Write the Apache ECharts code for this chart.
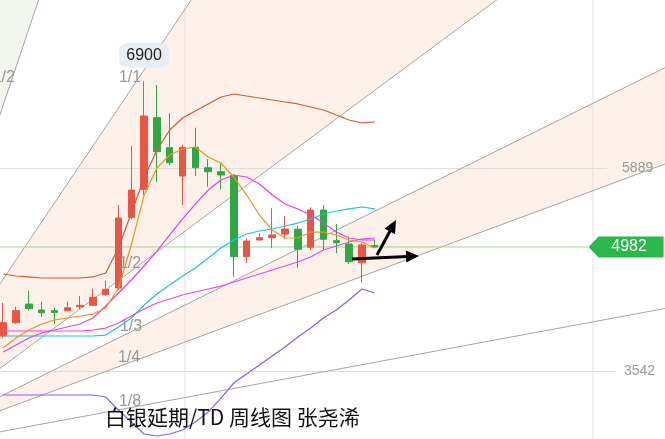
<!DOCTYPE html>
<html><head><meta charset="utf-8">
<script src="https://cdn.jsdelivr.net/npm/echarts@6/dist/echarts.min.js"></script>
<style>html,body{margin:0;padding:0;background:#fff}#c{width:665px;height:439px}</style>
</head><body><div id="c"></div>
<script>
// ---- data (weekly candles, index 0..29) ----
const opens  = [3952,4106,4322,4253,4245,4245,4291,4307,4430,4507,5325,5649,6478,6131,5803,6135,5899,5853,5807,4870,5063,5089,5132,5187,4978,5410,5055,5016,4800,4998];
const closes = [4106,4245,4268,4221,4225,4279,4307,4400,4492,5317,5641,6498,6085,5957,6135,5899,5853,5815,4870,5051,5089,5121,5190,4955,5410,5071,5031,4812,5005,4982];
const lows   = [3929,4091,4245,4175,4091,4241,4264,4299,4415,4484,5306,5583,5737,5931,5468,5803,5680,5649,4638,4793,5055,4967,5082,4742,4947,4955,4909,4785,4569,4970];
const highs  = [4334,4291,4476,4349,4279,4349,4415,4499,4592,5468,6150,6900,6856,6529,6162,6362,5997,5950,5826,5082,5140,5430,5340,5225,5441,5468,5248,5101,5025,5063];
const ma5    = [3813,3929,4021,4091,4137,4160,4183,4206,4276,4507,5005,5583,5896,6046,6116,6139,6023,5954,5792,5583,5352,5178,5086,5086,5155,5155,5121,5063,5040,4970];
const ma10   = [3767,3848,3929,3987,4021,4056,4091,4160,4299,4449,4600,4762,4935,5121,5306,5479,5641,5757,5815,5792,5711,5583,5479,5422,5352,5259,5155,5086,5063,5063];
const maLong = [4010,4010,4010,4010,4010,4010,4010,4021,4044,4102,4183,4264,4334,4380,4426,4461,4496,4530,4577,4623,4669,4716,4762,4808,4866,4947,4993,5040,5074,5086];
const bollMid= [3952,3952,3952,3952,3952,3952,3952,3952,3963,4056,4160,4310,4438,4542,4646,4739,4854,4970,5063,5132,5167,5190,5225,5259,5306,5364,5398,5422,5445,5422];
const bollUp = [4669,4646,4635,4623,4623,4623,4623,4635,4681,4970,5375,5780,6104,6336,6475,6556,6637,6718,6752,6729,6706,6683,6660,6637,6602,6567,6509,6451,6417,6428];
const bollDn = [3269,3269,3269,3269,3269,3269,3269,3269,3246,3095,2957,2818,2795,2818,2864,2957,3072,3234,3408,3512,3616,3720,3825,3940,4044,4160,4253,4368,4496,4449];

// Gann fan
const gannOrigin = [-9.15, 2598];
const gannUnit = 220;               // price per bar on the 1/1 line
const gannRatios = [2, 1, 1/2, 1/3, 1/4, 1/8];
const gannBands = [[1, 1/2], [1/3, 1/4]];
const gannLabels = ['1/2', '1/1', '1/2', '1/3', '1/4', '1/8'];
const gannLabelAt = [[0.05, 6943], [9.90, 6943], [9.90, 4791], [9.98, 4056], [9.82, 3703], [9.90, 3188]];

// axis / annotations
const tickValues = [5889, 3542];
const tickLineEnd = [47.13, 47.76];
const tickLabelAt = [48.31, 48.46];
const vGrid = [14.19, 46.04];
const lastPrice = 4982;
const peakValue = 6900;
const arrows = [[[27.23, 4843], [32.46, 4878]], [[29.18, 4889], [30.66, 5294]]];
const titleText = '白银延期/TD 周线图 张尧浠';

const X_MIN = -0.25, X_MAX = 51.66, Y_MIN = 2760, Y_MAX = 7840;
const FONT = 'Liberation Sans, Arial, sans-serif';

const candleData = opens.map((o, i) => [i, o, closes[i], lows[i], highs[i]]);
const toXY = arr => arr.map((v, i) => [i, v]);

function drawBack(params, api) {
  const far = 300;
  const O = api.coord(gannOrigin);
  const P = r => api.coord([gannOrigin[0] + far, gannOrigin[1] + gannUnit * r * far]);
  const ch = [];
  const upPt = api.coord([gannOrigin[0], gannOrigin[1] + gannUnit * 20 * far]);
  ch.push({type: 'polygon', shape: {points: [O, upPt, P(gannRatios[0])]}, style: {fill: '#f3f6ef'}});
  gannBands.forEach(([a, b]) => ch.push({type: 'polygon', shape: {points: [O, P(a), P(b)]}, style: {fill: '#fdf1ea'}}));
  vGrid.forEach(x => {
    const a = api.coord([x, Y_MIN]), b = api.coord([x, Y_MAX]);
    ch.push({type: 'line', shape: {x1: a[0], y1: a[1], x2: b[0], y2: b[1]}, style: {stroke: '#e2dede', lineWidth: 1}});
  });
  tickValues.forEach((v, k) => {
    const a = api.coord([X_MIN, v]), b = api.coord([tickLineEnd[k], v]);
    ch.push({type: 'line', shape: {x1: a[0], y1: a[1], x2: b[0], y2: b[1]}, style: {stroke: '#dddddd', lineWidth: 1}});
    const t = api.coord([tickLabelAt[k], v]);
    ch.push({type: 'text', x: t[0], y: t[1], style: {text: String(v), fill: '#9a9a9a', fontSize: 14, fontFamily: FONT, align: 'left', verticalAlign: 'middle'}});
  });
  gannRatios.forEach(r => {
    const b = P(r);
    ch.push({type: 'line', shape: {x1: O[0], y1: O[1], x2: b[0], y2: b[1]}, style: {stroke: '#a6a6a6', lineWidth: 1}});
  });
  gannLabels.forEach((t, k) => {
    const p = api.coord(gannLabelAt[k]);
    ch.push({type: 'text', x: p[0], y: p[1], style: {text: t, fill: '#999999', fontSize: 16, fontFamily: FONT, align: 'center', verticalAlign: 'middle'}});
  });
  const a = api.coord([X_MIN, lastPrice]), b = api.coord([45.65, lastPrice]);
  ch.push({type: 'line', shape: {x1: a[0], y1: a[1], x2: b[0], y2: b[1]}, style: {stroke: '#9fd69b', lineWidth: 1}});
  return {type: 'group', children: ch};
}

function drawArrows(params, api) {
  const ch = [];
  arrows.forEach(([s, e]) => {
    const a = api.coord(s), b = api.coord(e);
    const dx = b[0] - a[0], dy = b[1] - a[1], L = Math.hypot(dx, dy), ux = dx / L, uy = dy / L;
    const hl = 13, hw = 6;
    const base = [b[0] - ux * hl, b[1] - uy * hl];
    ch.push({type: 'line', shape: {x1: a[0], y1: a[1], x2: base[0] + ux * 2, y2: base[1] + uy * 2}, style: {stroke: '#000', lineWidth: 3}});
    ch.push({type: 'polygon', shape: {points: [b, [base[0] - uy * hw, base[1] + ux * hw], [base[0] + uy * hw, base[1] - ux * hw]]}, style: {fill: '#000'}});
  });
  return {type: 'group', children: ch};
}

const lineSeries = (name, data, color) => ({
  name, type: 'line', data: toXY(data), symbol: 'none', z: 4, silent: true,
  lineStyle: {color, width: 1.2}
});

const chart = echarts.init(document.getElementById('c'), null, {renderer: 'canvas'});
chart.setOption({
  animation: false,
  backgroundColor: '#fff',
  title: {text: titleText, left: 100, top: 402, textStyle: {fontSize: 21, fontWeight: 'normal', color: '#111', fontFamily: 'Noto Sans CJK SC'}},
  grid: {left: 0, right: 0, top: 0, bottom: 0},
  xAxis: {type: 'value', min: X_MIN, max: X_MAX, show: false},
  yAxis: {type: 'value', min: Y_MIN, max: Y_MAX, show: false},
  series: [
    {type: 'custom', renderItem: drawBack, data: [[0, 5000]], z: 1, silent: true},
    {
      type: 'candlestick', data: candleData, barWidth: 7, z: 3, silent: true,
      encode: {x: 0, y: [1, 2, 3, 4]},
      itemStyle: {color: '#ea5646', color0: '#2fa843', borderColor: '#ea5646', borderColor0: '#2fa843', borderWidth: 1},
      markPoint: {
        silent: true,
        data: [
          {coord: [11, peakValue], value: peakValue, symbol: 'roundRect', symbolSize: [50, 25], symbolOffset: [0, -26],
           itemStyle: {color: '#e8eef3'}, label: {show: true, formatter: String(peakValue), color: '#222', fontSize: 16, fontFamily: FONT}},
          {coord: [48.62, lastPrice], value: lastPrice, symbol: 'path://M0,10L10,0L75,0L75,20L10,20Z', symbolSize: [75, 21],
           itemStyle: {color: '#2bb84a'}, label: {show: true, formatter: String(lastPrice), color: '#fff', fontSize: 16, fontFamily: FONT, offset: [3, 0]}}
        ]
      }
    },
    lineSeries('BOLL UP', bollUp, '#d4593f'),
    lineSeries('BOLL DN', bollDn, '#8b5cf6'),
    lineSeries('BOLL MID', bollMid, '#1cc4de'),
    lineSeries('MA60', maLong, '#ec47e4'),
    lineSeries('MA10', ma10, '#e63fe6'),
    lineSeries('MA5', ma5, '#f39422'),
    {type: 'custom', renderItem: drawArrows, data: [[0, 5000]], z: 10, silent: true}
  ]
});
</script></body></html>
